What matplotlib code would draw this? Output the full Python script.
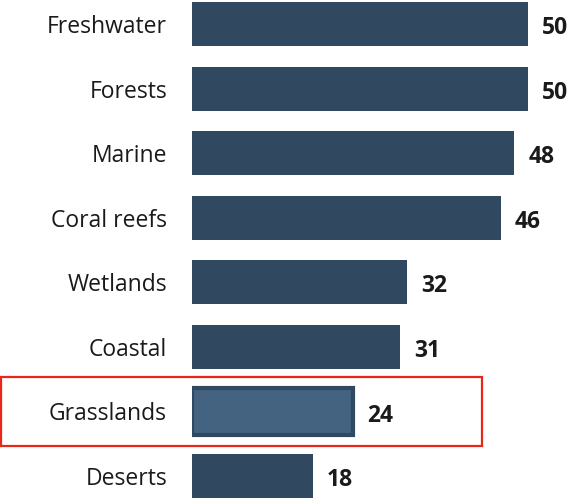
import matplotlib.pyplot as plt
from matplotlib.patches import Rectangle

categories = ['Freshwater', 'Forests', 'Marine', 'Coral reefs', 'Wetlands', 'Coastal', 'Grasslands', 'Deserts']
values = [50, 50, 48, 46, 32, 31, 24, 18]
highlight = 'Grasslands'

plt.rcParams['font.family'] = ['Open Sans', 'DejaVu Sans']

fig = plt.figure(figsize=(5.74, 4.98), dpi=100)
ax = fig.add_axes([192 / 574, 0, 376 / 574, 1])

base_color = '#304961'
hl_color = '#436380'

for i, (cat, val) in enumerate(zip(categories, values)):
    if cat == highlight:
        ax.barh(i, val, height=0.72, color=hl_color, edgecolor=base_color, linewidth=3)
    else:
        ax.barh(i, val, height=0.68, color=base_color)
    ax.annotate(str(val), xy=(val, i), xytext=(10, -3), textcoords='offset points',
                va='center', ha='left', fontsize=16.5, fontweight='bold', color='#1a1a1a')

ax.set_xlim(0, 56)
ax.set_ylim(7.34, -0.372)
ax.set_yticks(range(len(categories)))
ax.set_yticklabels(categories, fontsize=16.5, color='#1a1a1a')
ax.tick_params(axis='y', length=0, pad=18)
ax.set_xticks([])
for s in ax.spines.values():
    s.set_visible(False)

# red box around the highlighted row
hi = categories.index(highlight)
ax.add_patch(Rectangle((-28.4, hi - 0.53), 71.6, 1.06, fill=False, edgecolor='#e8261a',
                       linewidth=1.6, clip_on=False))

fig.savefig('out.png', dpi=100)
